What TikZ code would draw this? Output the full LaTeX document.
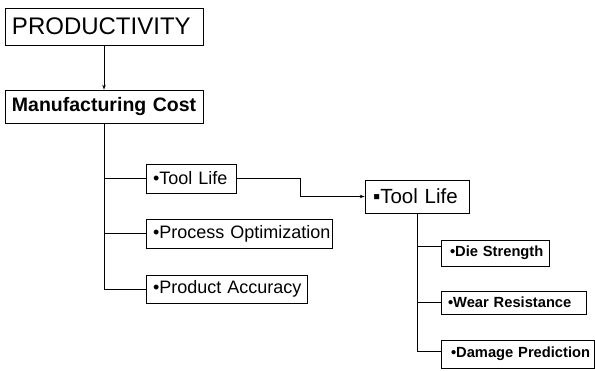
\documentclass[tikz,border=0pt]{standalone}
\usepackage{fontspec}
\setmainfont{Liberation Sans}
\usetikzlibrary{arrows.meta}
\newcommand{\keep}[1]{\mbox{#1}}
\tikzset{
  bx/.style={draw, line width=0.8pt, rectangle, inner xsep=7pt, inner ysep=0pt, align=left},
  link/.style={line width=0.7pt},
  arr/.style={line width=0.7pt, -{Stealth[length=5pt,width=3.5pt]}},
  big/.style={font=\fontsize{24}{26}\selectfont},
  mid/.style={font=\bfseries\fontsize{19.5}{22}\selectfont},
  lvl/.style={font=\fontsize{18}{20}\selectfont},
  lvltwo/.style={font=\fontsize{20.5}{22}\selectfont},
  sub/.style={font=\bfseries\fontsize{14.7}{17}\selectfont}
}
\begin{document}
\begin{tikzpicture}[x=1pt,y=-1pt]
  \useasboundingbox (0,0) rectangle (595,370);

  % top levels
  \node[bx, big, text width=184pt, minimum height=37pt] (prod) at (104,26.5) {\keep{PRODUCTIVITY}};
  \node[bx, mid, text width=184pt, minimum height=33pt] (mc) at (104,106.5) {\keep{Manufacturing Cost}};

  % first-level factors
  \node[bx, lvl, text width=76pt, minimum height=29pt] (tla) at (191,178.5) {\keep{•Tool Life}};
  \node[bx, lvl, text width=172pt, minimum height=29pt] (po) at (239,233.5) {\keep{•Process Optimization}};
  \node[bx, lvl, text width=147pt, minimum height=28pt] (pa) at (226.5,289) {\keep{•Product Accuracy}};

  % tool life detail
  \node[bx, lvltwo, inner xsep=8pt, text width=88pt, minimum height=33pt] (tlb) at (417,196.5) {\keep{▪Tool Life}};
  \node[bx, sub, inner xsep=9pt, text width=90pt, minimum height=26pt] (ds) at (495,253) {\keep{•Die Strength}};
  \node[bx, sub, text width=131pt, minimum height=23pt] (wr) at (513.5,302.5) {\keep{•Wear Resistance}};
  \node[bx, sub, inner xsep=10pt, text width=133pt, minimum height=28pt] (dp) at (517.5,354) {\keep{•Damage Prediction}};

  % connectors
  \draw[arr] (prod.south) -- (mc.north);
  \draw[link] (mc.south) |- (tla.west);
  \draw[link] (mc.south) |- (po.west);
  \draw[link] (mc.south) |- (pa.west);
  \draw[arr] (tla.east) -- ++(64,0) |- (tlb.west);
  \draw[link] (tlb.south) |- ([yshift=7pt]ds.west);
  \draw[link] (tlb.south) |- (wr.west);
  \draw[link] (tlb.south) |- ([yshift=3pt]dp.west);
\end{tikzpicture}
\end{document}
